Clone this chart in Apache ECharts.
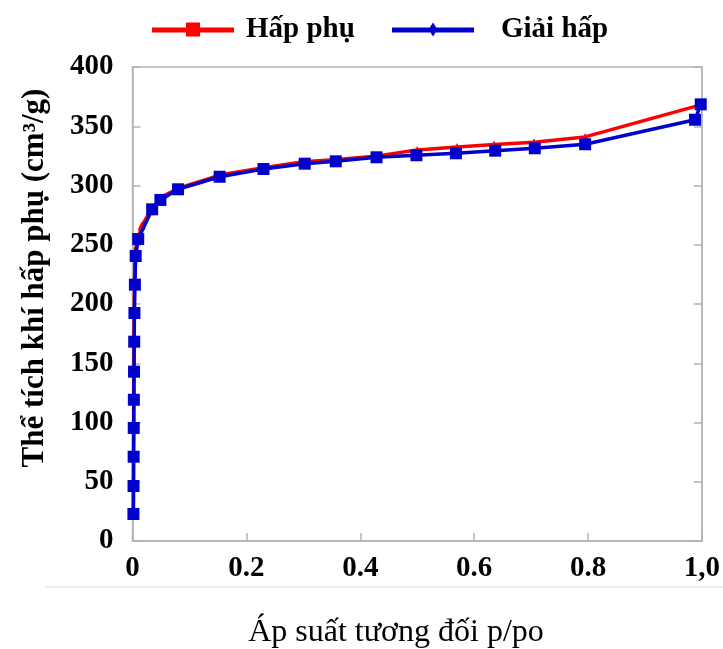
<!DOCTYPE html>
<html>
<head>
<meta charset="utf-8">
<script src="https://cdn.jsdelivr.net/npm/echarts@6/dist/echarts.min.js"></script>
<style>
  html, body { margin: 0; padding: 0; background: #fff; }
  #chart { width: 723px; height: 649px; }
</style>
</head>
<body>
<div id="chart"></div>
<script>
// p/po và thể tích hấp phụ (cm3/g)
const adsX = [0.0014, 0.0016, 0.0018, 0.002, 0.0022, 0.0025, 0.0028, 0.003, 0.0035, 0.0045,
  0.016, 0.035, 0.05, 0.082, 0.155, 0.23, 0.30, 0.36, 0.43, 0.50, 0.57, 0.635, 0.705, 0.795, 0.998];
const adsY = [23, 46, 71, 95, 119, 143, 168, 192, 216, 245,
  266, 281, 290, 298, 309, 315, 320, 322, 325, 330, 332.5, 334.5, 336.5, 341, 368];

const desX = [0.998, 0.988, 0.795, 0.7065, 0.637, 0.568, 0.4986, 0.4286, 0.357, 0.3025, 0.23,
  0.153, 0.08, 0.049, 0.0345, 0.01, 0.0056, 0.0042, 0.0034, 0.003, 0.0027, 0.0024, 0.0022,
  0.002, 0.0018, 0.0016];
const desY = [368.5, 355.5, 334.8, 331.4, 329.4, 327.2, 325.5, 323.8, 320.4, 318.4, 313.9,
  307.4, 296.8, 287.8, 279.9, 254.8, 240.5, 216.3, 192.4, 168.2, 142.9, 119.2, 95.4,
  71.1, 46.4, 22.8];

const xTickLabels = ['0', '0.2', '0.4', '0.6', '0.8', '1,0'];
const seriesNames = ['Hấp phụ', 'Giải hấp'];

const font = '"Liberation Serif", "DejaVu Serif", serif';
const axisGray = '#b4b4b4';

let myChart = echarts.init(document.getElementById('chart'));

const legendText = {
  color: '#000',
  fontFamily: font,
  fontWeight: 'bold',
  fontSize: 29
};

const tickText = {
  color: '#000',
  fontFamily: font,
  fontWeight: 'bold',
  fontSize: 29
};

let option = {
  animation: false,
  legend: [{
    left: 147,
    top: 10,
    itemWidth: 82,
    itemHeight: 14,
    data: [{ name: seriesNames[0], icon: 'path://M0,5H82V10H0Z M34,0H48V14H34Z' }],
    textStyle: Object.assign({ padding: [0, 0, 0, 7] }, legendText)
  }, {
    left: 387,
    top: 10,
    itemWidth: 82,
    itemHeight: 14,
    data: [{ name: seriesNames[1], icon: 'path://M0,5H82V10H0Z M36.5,7L41,0L45.5,7L41,14Z' }],
    textStyle: Object.assign({ padding: [0, 0, 0, 22] }, legendText)
  }],
  grid: {
    left: 132.5,
    right: 16,
    top: 67,
    bottom: 108,
    show: true,
    borderColor: axisGray,
    borderWidth: 1.5
  },
  xAxis: {
    type: 'value',
    min: 0,
    max: 1,
    interval: 0.2,
    axisLine: { lineStyle: { color: axisGray, width: 1.5 } },
    axisTick: { inside: true, length: 8, lineStyle: { color: axisGray, width: 1.5 } },
    splitLine: { show: false },
    axisLabel: Object.assign({
      margin: 13,
      formatter: (v) => xTickLabels[Math.round(v / 0.2)]
    }, tickText)
  },
  yAxis: [{
    type: 'value',
    min: 0,
    max: 400,
    interval: 50,
    axisLine: { show: true, lineStyle: { color: axisGray, width: 1.5 } },
    axisTick: { show: true, inside: true, length: 8, lineStyle: { color: axisGray, width: 1.5 } },
    splitLine: { show: false },
    axisLabel: Object.assign({ margin: 19 }, tickText)
  }, {
    type: 'value',
    position: 'right',
    min: 0,
    max: 400,
    interval: 50,
    axisLine: { show: true, lineStyle: { color: axisGray, width: 1.5 } },
    axisTick: { show: true, inside: true, length: 8, lineStyle: { color: axisGray, width: 1.5 } },
    axisLabel: { show: false },
    splitLine: { show: false }
  }],
  graphic: [{
    type: 'text',
    x: 35,
    y: 278,
    rotation: Math.PI / 2,
    style: {
      text: 'Thể tích khí hấp phụ (cm³/g)',
      fill: '#000',
      font: 'bold 31px ' + font,
      textAlign: 'center',
      textVerticalAlign: 'middle'
    }
  }, {
    type: 'text',
    x: 396,
    y: 633,
    style: {
      text: 'Áp suất tương đối p/po',
      fill: '#000',
      font: '32px ' + font,
      textAlign: 'center',
      textVerticalAlign: 'middle'
    }
  }, {
    type: 'line',
    shape: { x1: 45, y1: 587, x2: 723, y2: 587 },
    style: { stroke: '#e6e6e6', lineWidth: 1.5 }
  }],
  series: [{
    name: seriesNames[0],
    type: 'line',
    data: adsX.map((x, i) => [x, adsY[i]]),
    color: '#ff0000',
    symbol: 'triangle',
    symbolSize: 8,
    lineStyle: { width: 3.5, color: '#ff0000' },
    itemStyle: { color: '#ff0000' },
    z: 2
  }, {
    name: seriesNames[1],
    type: 'line',
    data: desX.map((x, i) => [x, desY[i]]),
    color: '#0000cc',
    symbol: 'rect',
    symbolSize: 12,
    lineStyle: { width: 3.5, color: '#0000cc' },
    itemStyle: { color: '#0000cc' },
    z: 3
  }]
};

myChart.setOption(option);
</script>
</body>
</html>
